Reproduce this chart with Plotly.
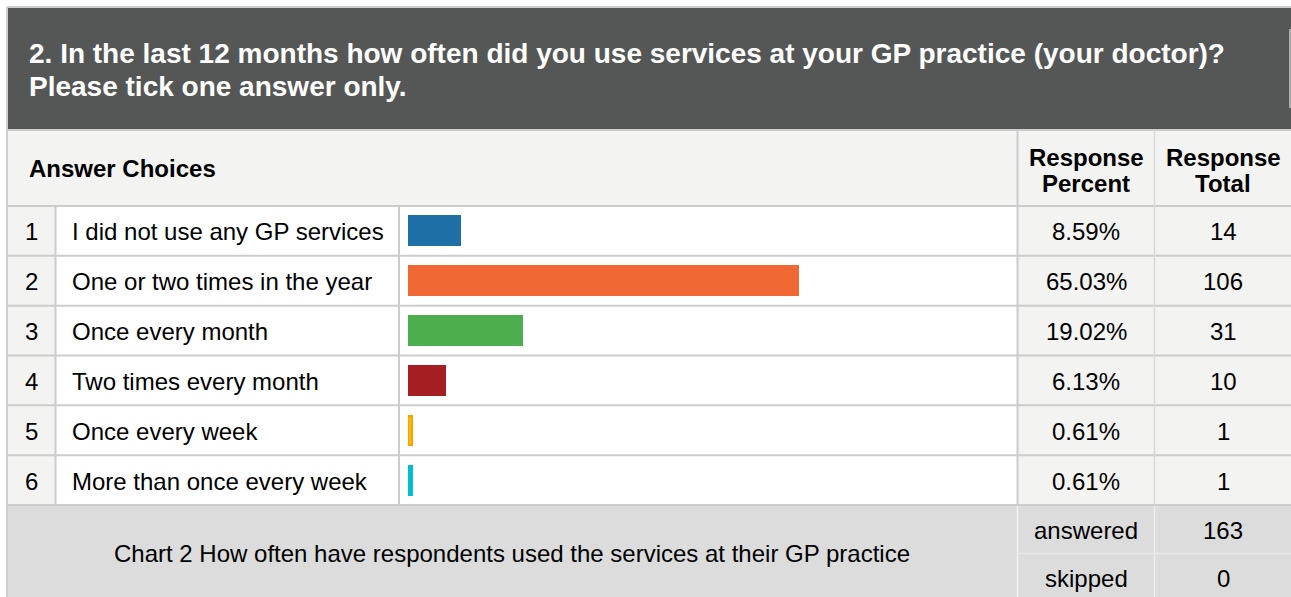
import plotly.graph_objects as go

# Survey question 2 results
title_lines = [
    "2. In the last 12 months how often did you use services at your GP practice (your doctor)?",
    "Please tick one answer only.",
]
choices = [
    "I did not use any GP services",
    "One or two times in the year",
    "Once every month",
    "Two times every month",
    "Once every week",
    "More than once every week",
]
percents = [8.59, 65.03, 19.02, 6.13, 0.61, 0.61]
totals = [14, 106, 31, 10, 1, 1]
bar_colors = ["#1d6fa5", "#f06833", "#4cae4f", "#a51e21", "#ffc107", "#00bcd4"]
bar_edges = ["#1d6fa5", "#f06833", "#4cae4f", "#a51e21", "#ffa000", "#00bcd4"]
answered = 163
skipped = 0
caption = "Chart 2 How often have respondents used the services at their GP practice"

W, H = 1291, 597
FONT = "Liberation Sans, Arial, sans-serif"


def fx(x):
    return x / W


def fy(y):
    return 1 - y / H


shapes = []


def rect(x0, y0, x1, y1, fill):
    shapes.append(dict(type="rect", xref="paper", yref="paper",
                       x0=fx(x0), x1=fx(x1), y0=fy(y1), y1=fy(y0),
                       fillcolor=fill, line=dict(width=0), layer="below"))


def line(x0, y0, x1, y1, color, width=2):
    shapes.append(dict(type="line", xref="paper", yref="paper",
                       x0=fx(x0), x1=fx(x1), y0=fy(y0), y1=fy(y1),
                       line=dict(color=color, width=width), layer="below"))


# table geometry (pixels)
LEFT, RIGHT = 8, W
TOP_ROWS, BOT_ROWS = 206, 505
COL_NUM, COL_TXT, COL_PCT, COL_TOT = 55.5, 399, 1017.5, 1154.5
row_h = (BOT_ROWS - TOP_ROWS) / len(choices)

# backgrounds
rect(LEFT, 8, RIGHT, 130, "#555756")
rect(1289.5, 29, 1290.5, 108, "#ffffff")
rect(LEFT, 130, RIGHT, TOP_ROWS, "#f3f3f2")
rect(LEFT, TOP_ROWS, COL_NUM, BOT_ROWS, "#f3f3f2")
rect(COL_NUM, TOP_ROWS, COL_PCT, BOT_ROWS, "#ffffff")
rect(COL_PCT, TOP_ROWS, RIGHT, BOT_ROWS, "#f3f3f2")
rect(LEFT, BOT_ROWS, RIGHT, H, "#dcdcdc")

# outer frame
line(7, 7, RIGHT, 7, "#cfcfcf", 2)
line(7, 7, 7, H, "#cfcfcf", 2)

# grid lines
line(LEFT, 130, RIGHT, 130, "#cccccc", 2)
for i in range(len(choices) + 1):
    yy = TOP_ROWS + i * row_h
    line(LEFT, yy, RIGHT, yy, "#cccccc", 2)
line(COL_NUM, TOP_ROWS, COL_NUM, BOT_ROWS, "#cccccc", 2)
line(COL_TXT, TOP_ROWS, COL_TXT, BOT_ROWS, "#cccccc", 2)
line(COL_PCT, 130, COL_PCT, BOT_ROWS, "#cccccc", 2)
line(COL_TOT, 130, COL_TOT, BOT_ROWS, "#d9d9d9", 1.5)
line(COL_PCT, BOT_ROWS + 1, COL_PCT, H, "#eeeeee", 1.5)
line(COL_TOT, BOT_ROWS + 1, COL_TOT, H, "#eeeeee", 1.5)
line(COL_PCT, 553.5, RIGHT, 553.5, "#e8e8e8", 1.5)

annotations = []


def text(x, y, s, size=24, color="#000000", bold=False, xanchor="center"):
    annotations.append(dict(
        x=fx(x), y=fy(y), xref="paper", yref="paper", showarrow=False,
        text=f"<b>{s}</b>" if bold else s, xanchor=xanchor, yanchor="middle",
        font=dict(family=FONT, size=size, color=color)))


# title band
text(27, 53, title_lines[0], size=28, color="#ffffff", bold=True, xanchor="left")
text(27, 87, title_lines[1], size=28, color="#ffffff", bold=True, xanchor="left")

# column headers
text(27, 169, "Answer Choices", bold=True, xanchor="left")
text(1086, 157, "Response", bold=True)
text(1086, 183, "Percent", bold=True)
text(1223, 157, "Response", bold=True)
text(1223, 183, "Total", bold=True)

# rows
for i, (c, p, t) in enumerate(zip(choices, percents, totals)):
    yc = TOP_ROWS + (i + 0.5) * row_h + 1
    text(31.5, yc, str(i + 1))
    text(70, yc, c, xanchor="left")
    text(1086, yc, f"{p:.2f}%")
    text(1223, yc, str(t))

# footer
text(512, 553, caption)
text(1086, 530, "answered")
text(1223, 530, str(answered))
text(1086, 578, "skipped")
text(1223, 578, str(skipped))

fig = go.Figure()
fig.add_trace(go.Bar(
    x=percents, y=list(range(len(choices))), orientation="h",
    marker=dict(color=bar_colors, line=dict(color=bar_edges, width=2)),
    width=0.58, hoverinfo="skip", showlegend=False,
    customdata=choices,
))

fig.update_layout(
    width=W, height=H, margin=dict(l=0, r=0, t=0, b=0),
    paper_bgcolor="#ffffff", plot_bgcolor="rgba(0,0,0,0)",
    shapes=shapes, annotations=annotations,
    xaxis=dict(domain=[fx(408), fx(1008)], range=[0, 100], visible=False, fixedrange=True),
    yaxis=dict(domain=[fy(BOT_ROWS), fy(TOP_ROWS)], range=[len(choices) - 0.5, -0.5],
               visible=False, fixedrange=True),
    bargap=0,
)

fig.write_html("out.html", config={"displayModeBar": False})
